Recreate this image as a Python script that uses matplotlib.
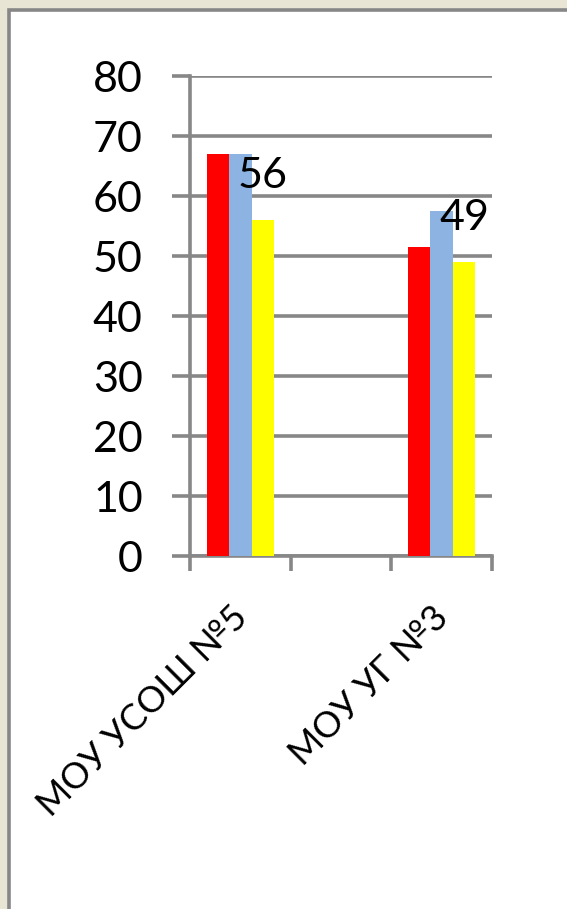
import numpy as np
import matplotlib
matplotlib.use("Agg")
import matplotlib.pyplot as plt
import matplotlib.transforms as mtransforms
from matplotlib.patches import Rectangle

# chart data (middle category is empty in the source chart)
categories = ["МОУ УСОШ №5", "", "МОУ УГ №3"]
red_vals = [67, np.nan, 51.5]
blue_vals = [67, np.nan, 57.5]
yellow_vals = [56, np.nan, 49]
y_ticks = [0, 10, 20, 30, 40, 50, 60, 70, 80]

GRAY = "#878787"
LW = 2.6
plt.rcParams["font.family"] = ["Lato", "DejaVu Sans"]

fig = plt.figure(figsize=(5.67, 9.09), dpi=100)
fig.patch.set_facecolor("#e9e5d5")

# white slide panel with gray frame on top/left
W, H = 567.0, 909.0
fig.patches.append(Rectangle((8.5 / W, -0.02), 1, (H - 9.5) / H + 0.02, transform=fig.transFigure,
                             facecolor="white", edgecolor=GRAY, linewidth=LW, zorder=-5))

ax = fig.add_axes([190 / W, (H - 556) / H, 302 / W, 480 / H])
ax.set_facecolor("none")

x = np.arange(len(categories))
bw = 0.222
ax.bar(x - bw, red_vals, bw, color="#ff0000", zorder=3)
ax.bar(x, blue_vals, bw, color="#8db3e2", zorder=3)
ax.bar(x + bw, yellow_vals, bw, color="#ffff00", zorder=3)

for xi, v in zip(x, yellow_vals):
    if not np.isnan(v):
        ax.annotate(f"{v:g}", (xi + bw, v), xytext=(0, 18), textcoords="offset points",
                    ha="center", va="bottom", fontsize=31, color="black", zorder=4)

ax.set_ylim(0, 80)
ax.set_xlim(-0.5, len(categories) - 0.5)
ax.set_yticks(y_ticks)
ax.tick_params(axis="y", length=13, width=LW, color=GRAY, pad=21, labelsize=31, direction="out")
ax.yaxis.grid(True, color=GRAY, linewidth=LW, zorder=1)
ax.set_axisbelow(True)

ax.set_xticks(x)
ax.set_xticklabels(categories, rotation=45, ha="right", rotation_mode="anchor", fontsize=26)
ax.tick_params(axis="x", which="major", length=0, pad=32)
# nudge rotated labels a bit left, like the original
shift = mtransforms.ScaledTranslation(-10 / 100, 0, fig.dpi_scale_trans)
for lbl in ax.get_xticklabels():
    lbl.set_transform(lbl.get_transform() + shift)
ax.set_xticks(np.arange(len(categories) + 1) - 0.5, minor=True)
ax.tick_params(axis="x", which="minor", length=11, width=LW, color=GRAY, direction="out")

for s in ["top", "right"]:
    ax.spines[s].set_visible(False)
for s in ["left", "bottom"]:
    ax.spines[s].set_color(GRAY)
    ax.spines[s].set_linewidth(LW)
    ax.spines[s].set_zorder(2)

fig.savefig("out.png", dpi=100, facecolor=fig.get_facecolor())
